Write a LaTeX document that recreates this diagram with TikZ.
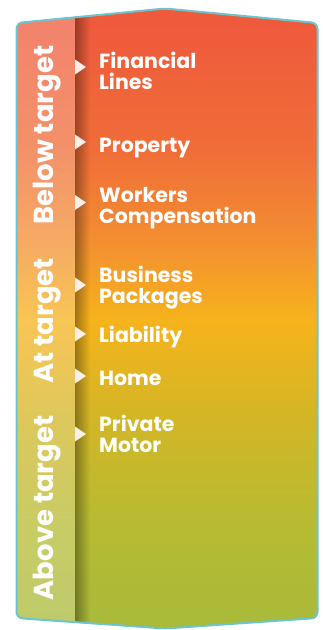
\documentclass[tikz,border=0pt]{standalone}
\usepackage{fontspec}
\setmainfont{Poppins}
\usetikzlibrary{fadings, positioning}
\usepackage{xcolor}
\definecolor{tgtred}{RGB}{239,90,60}
\definecolor{tgtcoral}{RGB}{240,109,56}
\definecolor{tgtorange}{RGB}{243,142,49}
\definecolor{tgtyellow}{RGB}{246,179,28}
\definecolor{tgtmustard}{RGB}{210,182,38}
\definecolor{tgtolive}{RGB}{184,187,49}
\definecolor{tgtgreen}{RGB}{170,186,57}
\definecolor{tgtteal}{RGB}{107,196,206}
\definecolor{tgtcream}{RGB}{246,239,234}

\pgfdeclareverticalshading{targetshade}{100bp}{%
  color(0bp)=(tgtgreen); color(26.1bp)=(tgtgreen); color(33.8bp)=(tgtolive);
  color(41.8bp)=(tgtmustard); color(49.9bp)=(tgtyellow); color(56.3bp)=(tgtorange);
  color(63.6bp)=(tgtcoral); color(73.6bp)=(tgtred); color(100bp)=(tgtred)}
\tikzfading[name=bandshadow, left color=transparent!65, right color=transparent!100]

\begin{document}
\begin{tikzpicture}[
    x=1pt, y=-1pt,
    frame/.style={draw=tgtteal, line width=2pt, rounded corners=6pt},
    item/.style={anchor=base west, align=left, inner sep=0pt, text=white,
        font=\fontsize{20.5}{20.5}\selectfont\bfseries},
    side/.style={anchor=base, rotate=90, inner sep=0pt, text=white,
        font=\fontsize{27.5}{27.5}\selectfont\bfseries},
    marker/.style={fill=tgtcream},
]
\useasboundingbox (0,0) rectangle (323,630);

% === BACKGROUND ===
\begin{scope}
    \clip[rounded corners=6pt] (16.5,23) -- (165,8.5) -- (317.5,23)
        -- (317.5,618) -- (165,628.5) -- (16.5,618) -- cycle;
    \shade[shading=targetshade] (16,8) rectangle (318,629);
    % side band + its shadow
    \fill[white, opacity=0.25] (16,0) rectangle (75,630);
    \fill[black, path fading=bandshadow] (75,0) rectangle (90,630);
\end{scope}

% Outline
\draw[frame] (16.5,23) -- (165,8.5) -- (317.5,23)
    -- (317.5,618) -- (165,628.5) -- (16.5,618) -- cycle;

% === MARKERS ===
\foreach \y in {67,142,202.5,285,334,376,434}
    \fill[marker] (75,\y-7.5) -- (86,\y) -- (75,\y+7.5) -- cycle;

% === LINES OF BUSINESS ===
% (two-line nodes sit on the baseline of their last line)
\node[item] (financial) at (99,89) {Financial\\Lines};
\node[item] (property) at (99,152) {Property};
\node[item] (workers) at (99,223) {Workers\\Compensation};
\node[item] (business) at (99,303) {Business\\Packages};
\node[item] (liability) at (99,342) {Liability};
\node[item] (home) at (99,385) {Home};
\node[item] (motor) at (99,452) {Private\\Motor};

% === TARGET BANDS ===
\node[side] (below) at (53,135) {Below target};
\node[side] (attarget) at (53,321) {At target};
\node[side] (above) at (53,508) {Above target};

\end{tikzpicture}
\end{document}
